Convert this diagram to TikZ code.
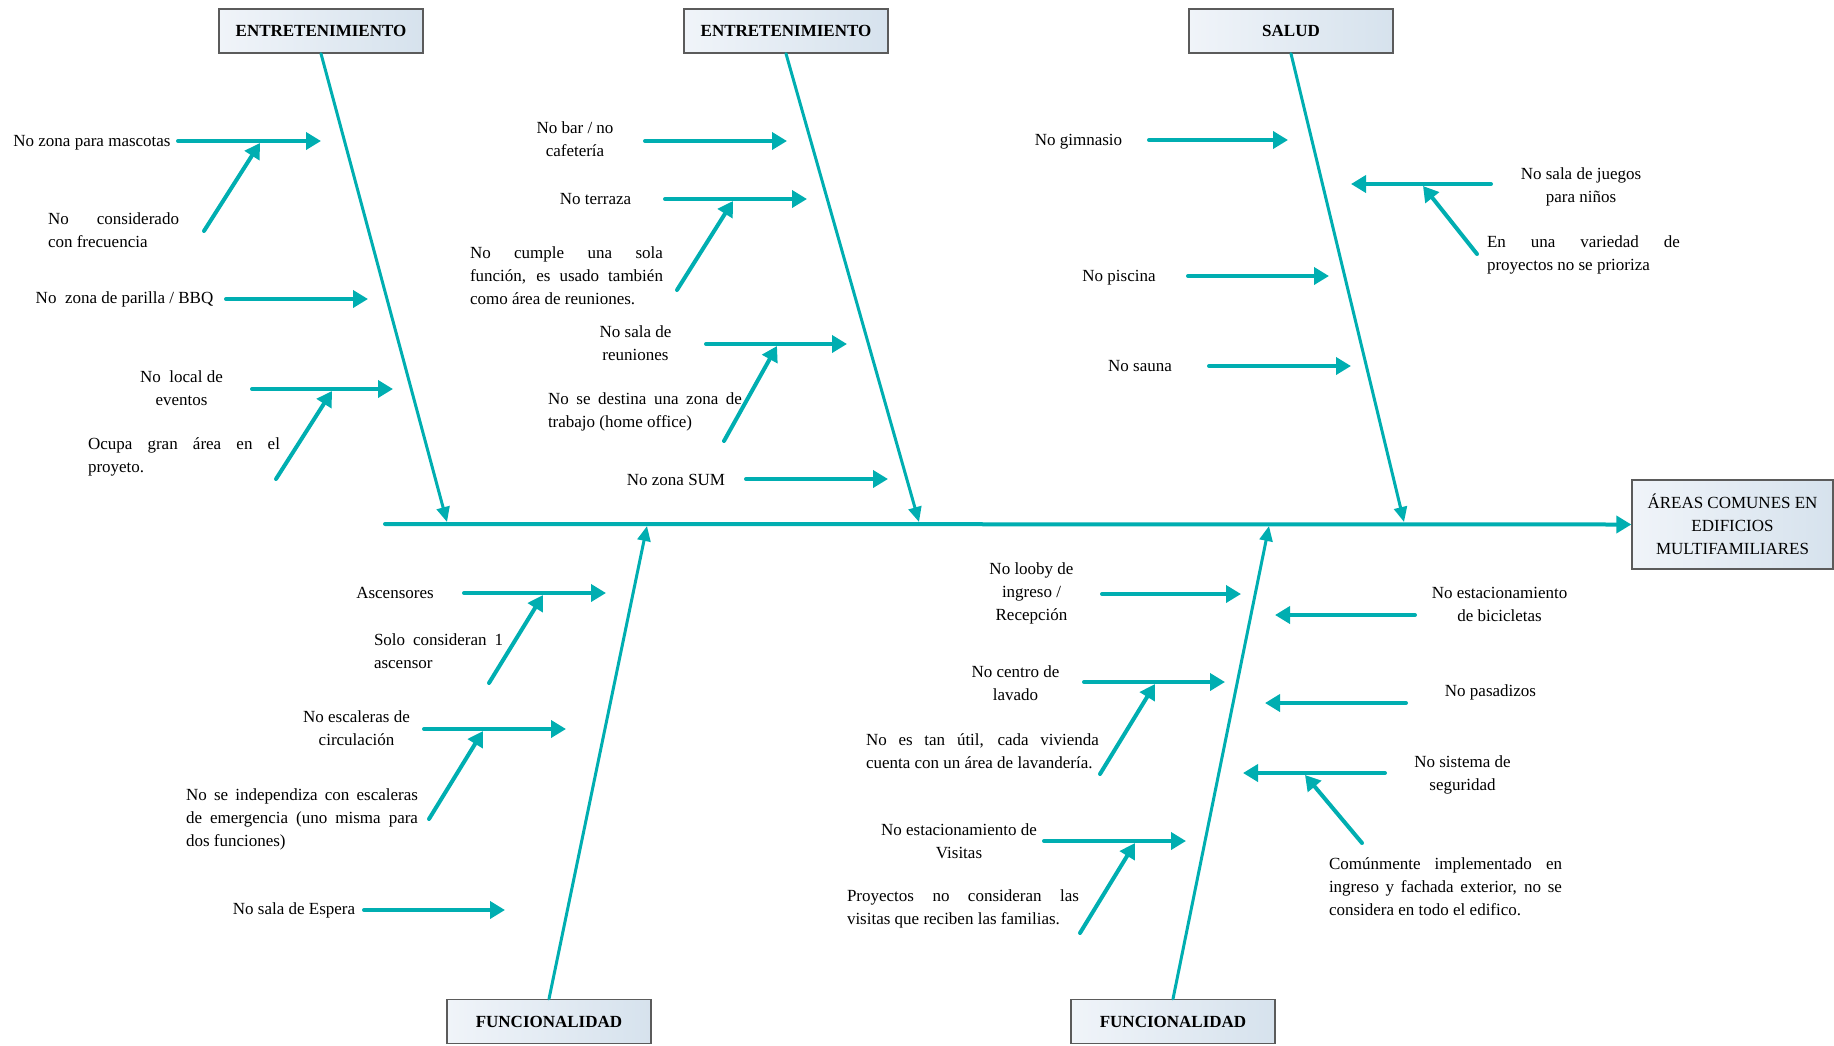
\documentclass[tikz,border=0pt]{standalone}
\usepackage{fontspec}
\setmainfont{Liberation Serif}
\usetikzlibrary{arrows.meta,positioning,calc}
\definecolor{fishteal}{HTML}{00AEB1}
\definecolor{boxline}{HTML}{5B5B5B}
\definecolor{boxlight}{HTML}{F0F4F9}
\definecolor{boxdark}{HTML}{D6E2ED}
\tikzset{catbox/.style={draw=boxline,line width=1.3pt,left color=boxlight,right color=boxdark,
  minimum width=204pt,minimum height=44pt,inner sep=0pt,font=\fontsize{17}{23}\selectfont\bfseries},
  effbox/.style={catbox,minimum width=201pt,minimum height=89pt,align=center,
  font=\fontsize{17}{23}\selectfont},
  txt/.style={inner sep=0pt,align=center,font=\fontsize{17}{23}\selectfont},
  jtxt/.style={txt,align=justify},
  arrow/.style={-{Triangle[length=15pt,width=17pt]},line width=4pt,draw=fishteal,line cap=round},
  bone/.style={-{Triangle[length=15pt,width=13pt]},line width=3pt,draw=fishteal,line cap=round}}

\begin{document}
\tolerance=10000 \hbadness=10000 \hyphenpenalty=10000
\begin{tikzpicture}[x=1pt,y=-1pt]
\useasboundingbox (0,0) rectangle (1834,1045);
\node[catbox] (h1) at (321,31) {ENTRETENIMIENTO};
\node[catbox] (h2) at (786,31) {ENTRETENIMIENTO};
\node[catbox] (h3) at (1291,31) {SALUD};
\node[catbox] (f1) at (549,1021.5) {FUNCIONALIDAD};
\node[catbox] (f2) at (1173,1021.5) {FUNCIONALIDAD};
\node[effbox] (eff) at (1732.5,524.5) {ÁREAS COMUNES EN\\EDIFICIOS\\MULTIFAMILIARES};

\coordinate (tail) at (385,524);
\coordinate (k1) at (447,522); \coordinate (k2) at (919,522); \coordinate (k3) at (1404,522);
\coordinate (k4) at (647,526); \coordinate (k5) at (1269,526);
\draw[arrow] (tail) -- (eff.west);
\draw[bone] (h1.south) -- (k1); \draw[bone] (h2.south) -- (k2); \draw[bone] (h3.south) -- (k3);
\draw[bone] (f1.north) -- (k4); \draw[bone] (f2.north) -- (k5);

\node[txt] (c1) at (92,143) {No zona para mascotas};
\node[jtxt,text width=131pt] (s1) at (113.5,230.5) {No considerado\linebreak con frecuencia};
\node[txt] (c2) at (124.5,299) {No~~zona de parilla / BBQ};
\node[txt] (c3) at (181.5,388.5) {No~~local de\\eventos};
\node[jtxt,text width=192pt] (s3) at (184,456.5) {Ocupa gran área en el\linebreak proyeto.};
\node[txt] (c4) at (575,139.5) {No bar / no\\cafetería};
\node[txt] (c5) at (595.5,199) {No terraza};
\node[jtxt,text width=193pt] (s5) at (566.5,276) {No cumple una sola\linebreak función, es usado también\linebreak como área de reuniones.};
\node[txt] (c6) at (635.5,343.5) {No sala de\\reuniones};
\node[jtxt,text width=194pt] (s6) at (645,412) {No se destina una zona de\linebreak trabajo (home office)};
\node[txt] (c7) at (676,480) {No zona SUM};
\node[txt] (c8) at (1078.5,142) {No gimnasio};
\node[txt] (c9) at (1119,278) {No piscina};
\node[txt] (c10) at (1140,366) {No sauna};
\node[txt] (c11) at (1581,186.5) {No sala de juegos\\para niños};
\node[jtxt,text width=193pt] (s11) at (1583.5,255) {En una variedad de\linebreak proyectos no se prioriza};
\node[txt] (c12) at (395,593) {Ascensores};
\node[jtxt,text width=129pt] (s12) at (438.5,651.5) {Solo consideran 1\linebreak ascensor};
\node[txt] (c13) at (356.5,728.5) {No escaleras de\\circulación};
\node[jtxt,text width=232pt] (s13) at (302,819) {No se independiza con escaleras\linebreak de emergencia (uno misma para\linebreak dos funciones)};
\node[txt] (c14) at (294,910) {No sala de Espera};
\node[txt] (c15) at (1031.5,593) {No looby de\\ingreso /\\Recepción};
\node[txt] (c16) at (1015.5,683) {No centro de\\lavado};
\node[jtxt,text width=233pt] (s16) at (982.5,751) {No es tan útil, cada vivienda\linebreak cuenta con un área de lavandería.};
\node[txt] (c17) at (959,841) {No estacionamiento de\\Visitas};
\node[jtxt,text width=232pt] (s17) at (963,909) {Proyectos no consideran las\linebreak visitas que reciben las familias.};
\node[txt] (c18) at (1499.5,604.5) {No estacionamiento\\de bicicletas};
\node[txt] (c19) at (1490.5,692) {No pasadizos};
\node[txt] (c20) at (1462.5,774.5) {No sistema de\\seguridad};
\node[jtxt,text width=233pt] (s20) at (1445.5,887) {Comúnmente implementado en\linebreak ingreso y fachada exterior, no se\linebreak considera en todo el edifico.};

\coordinate (p1) at (178,141); \coordinate (q1) at (321,141);
\coordinate (p2) at (226,299); \coordinate (q2) at (368,299);
\coordinate (p3) at (252,389); \coordinate (q3) at (393,389);
\coordinate (p4) at (645,141); \coordinate (q4) at (787,141);
\coordinate (p5) at (665,199); \coordinate (q5) at (807,199);
\coordinate (p6) at (706,344); \coordinate (q6) at (847,344);
\coordinate (p7) at (746,479); \coordinate (q7) at (888,479);
\coordinate (p8) at (1149,140); \coordinate (q8) at (1288,140);
\coordinate (p9) at (1188,276); \coordinate (q9) at (1329,276);
\coordinate (p10) at (1209,366); \coordinate (q10) at (1351,366);
\coordinate (p11) at (1491,184); \coordinate (q11) at (1351,184);
\coordinate (p12) at (464,593); \coordinate (q12) at (606,593);
\coordinate (p13) at (424,729); \coordinate (q13) at (566,729);
\coordinate (p14) at (364,910); \coordinate (q14) at (505,910);
\coordinate (p15) at (1102,594); \coordinate (q15) at (1241,594);
\coordinate (p16) at (1084,682); \coordinate (q16) at (1225,682);
\coordinate (p17) at (1044,841); \coordinate (q17) at (1186,841);
\coordinate (p18) at (1415,615); \coordinate (q18) at (1275,615);
\coordinate (p19) at (1406,703); \coordinate (q19) at (1265,703);
\coordinate (p20) at (1385,773); \coordinate (q20) at (1243,773);
\draw[arrow] (p1)--(q1);\draw[arrow] (p2)--(q2);\draw[arrow] (p3)--(q3);\draw[arrow] (p4)--(q4);
\draw[arrow] (p5)--(q5);\draw[arrow] (p6)--(q6);\draw[arrow] (p7)--(q7);\draw[arrow] (p8)--(q8);
\draw[arrow] (p9)--(q9);\draw[arrow] (p10)--(q10);\draw[arrow] (p11)--(q11);\draw[arrow] (p12)--(q12);
\draw[arrow] (p13)--(q13);\draw[arrow] (p14)--(q14);\draw[arrow] (p15)--(q15);\draw[arrow] (p16)--(q16);
\draw[arrow] (p17)--(q17);\draw[arrow] (p18)--(q18);\draw[arrow] (p19)--(q19);\draw[arrow] (p20)--(q20);

\coordinate (u1) at (204,231); \coordinate (v1) at (260,143);
\coordinate (u3) at (276,479); \coordinate (v3) at (332,391);
\coordinate (u5) at (677,290); \coordinate (v5) at (733,201);
\coordinate (u6) at (724,441); \coordinate (v6) at (777,346);
\coordinate (u11) at (1477,254); \coordinate (v11) at (1423,186);
\coordinate (u12) at (489,683); \coordinate (v12) at (543,595);
\coordinate (u13) at (429,819); \coordinate (v13) at (483,731);
\coordinate (u16) at (1100,774); \coordinate (v16) at (1155,684);
\coordinate (u17) at (1080,933); \coordinate (v17) at (1135,843);
\coordinate (u20) at (1362,843); \coordinate (v20) at (1305,775);
\draw[arrow] (u1)--(v1);\draw[arrow] (u3)--(v3);\draw[arrow] (u5)--(v5);\draw[arrow] (u6)--(v6);
\draw[arrow] (u11)--(v11);\draw[arrow] (u12)--(v12);\draw[arrow] (u13)--(v13);
\draw[arrow] (u16)--(v16);\draw[arrow] (u17)--(v17);\draw[arrow] (u20)--(v20);
\end{tikzpicture}
\end{document}
